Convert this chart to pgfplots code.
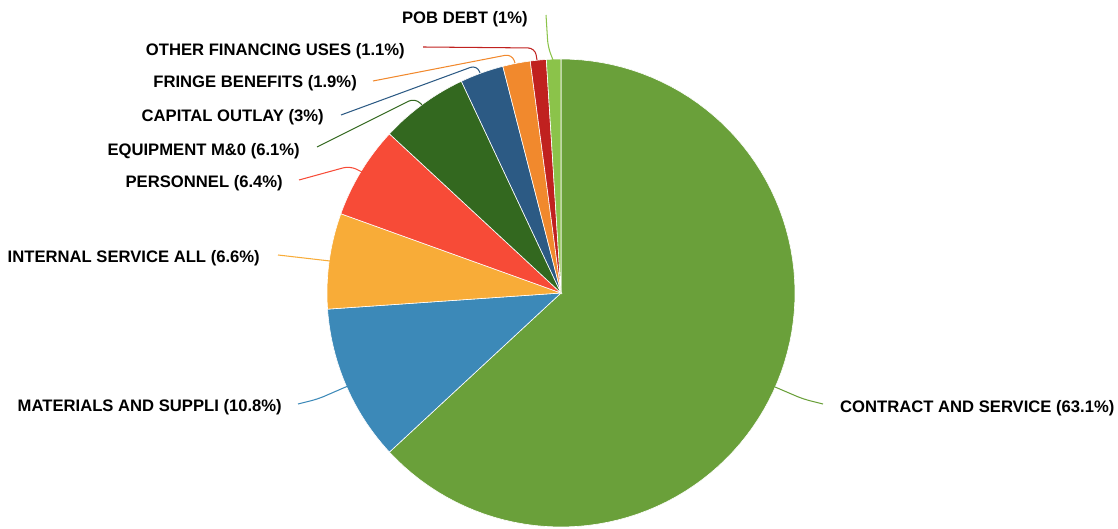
\documentclass[border=0pt]{standalone}
\usepackage{fontspec}
\setmainfont{Liberation Sans}
\usepackage{pgfplots}
\pgfplotsset{compat=1.18}
\definecolor{cContract}{HTML}{6AA03A}
\definecolor{cMaterials}{HTML}{3C89B8}
\definecolor{cInternal}{HTML}{F8AC38}
\definecolor{cPersonnel}{HTML}{F74B37}
\definecolor{cEquip}{HTML}{33681F}
\definecolor{cCapital}{HTML}{2C5A84}
\definecolor{cFringe}{HTML}{F1892D}
\definecolor{cOther}{HTML}{C0211F}
\definecolor{cPOB}{HTML}{8BC34A}
\def\cx{561}\def\cy{236}\def\R{234}
\def\cum{0}
% #1 = percentage, #2 = colour
\newcommand\slice[2]{%
  \pgfmathsetmacro\angB{90-3.6*\cum}%
  \pgfmathsetmacro\angA{90-3.6*(\cum+#1)}%
  \pgfmathsetmacro\newcum{\cum+#1}%
  \xdef\cum{\newcum}%
  \edef\doslice{\noexpand\addplot[fill=#2, draw=white, line width=0.6pt, domain=\angA:\angB, samples=90]
    ({\cx+\R*cos(x)},{\cy+\R*sin(x)}) -- (axis cs:\cx,\cy) -- cycle;}%
  \doslice}
\tikzset{lab/.style={inner sep=0pt, font=\bfseries\fontsize{16.7}{19}\selectfont},
  lead/.style={line width=1.05pt, rounded corners=7pt}}
\begin{document}
\begin{tikzpicture}
\begin{axis}[name=ax, width=1118bp, height=529bp, scale only axis,
  xmin=0, xmax=1118, ymin=0, ymax=529, hide axis, clip=false,
  at={(0,0)}, anchor=south west]
\slice{63.1}{cContract}
\slice{10.8}{cMaterials}
\slice{6.6}{cInternal}
\slice{6.4}{cPersonnel}
\slice{6.1}{cEquip}
\slice{3}{cCapital}
\slice{1.9}{cFringe}
\slice{1.1}{cOther}
\slice{1}{cPOB}
% leader lines
\draw[lead, cPOB] (axis cs:546,514) -- (axis cs:548,482) -- (axis cs:553,469);
\draw[lead, cOther] (axis cs:423,482) -- (axis cs:535,481) -- (axis cs:537,469);
\draw[lead, cFringe] (axis cs:373,448) -- (axis cs:512,475) -- (axis cs:515,466);
\draw[lead, cCapital] (axis cs:341,414) -- (axis cs:477,464) -- (axis cs:480,456);
\draw[lead, cEquip] (axis cs:317,382) -- (axis cs:415,431) -- (axis cs:422,424);
\draw[lead, cPersonnel] (axis cs:299,349) -- (axis cs:350,363) -- (axis cs:362,357);
\draw[lead, cInternal] (axis cs:278,274) -- (axis cs:330,268);
\draw[lead, cMaterials] (axis cs:298,125) -- (axis cs:318,130) -- (axis cs:348,143);
\draw[lead, cContract] (axis cs:823,125) -- (axis cs:803,130) -- (axis cs:775,142);
% labels
\node[lab, anchor=east] at (axis cs:528,510) {POB DEBT (1\%)};
\node[lab, anchor=east] at (axis cs:405,478) {OTHER FINANCING USES (1.1\%)};
\node[lab, anchor=east] at (axis cs:357,446) {FRINGE BENEFITS (1.9\%)};
\node[lab, anchor=east] at (axis cs:324,412) {CAPITAL OUTLAY (3\%)};
\node[lab, anchor=east] at (axis cs:300,378) {EQUIPMENT M\&0 (6.1\%)};
\node[lab, anchor=east] at (axis cs:283,346) {PERSONNEL (6.4\%)};
\node[lab, anchor=east] at (axis cs:260,271) {INTERNAL SERVICE ALL (6.6\%)};
\node[lab, anchor=east] at (axis cs:282,122) {MATERIALS AND SUPPLI (10.8\%)};
\node[lab, anchor=west] at (axis cs:840,121) {CONTRACT AND SERVICE (63.1\%)};
\end{axis}
\pgfresetboundingbox
\path[use as bounding box] (ax.south west) rectangle (ax.north east);
\end{tikzpicture}
\end{document}
